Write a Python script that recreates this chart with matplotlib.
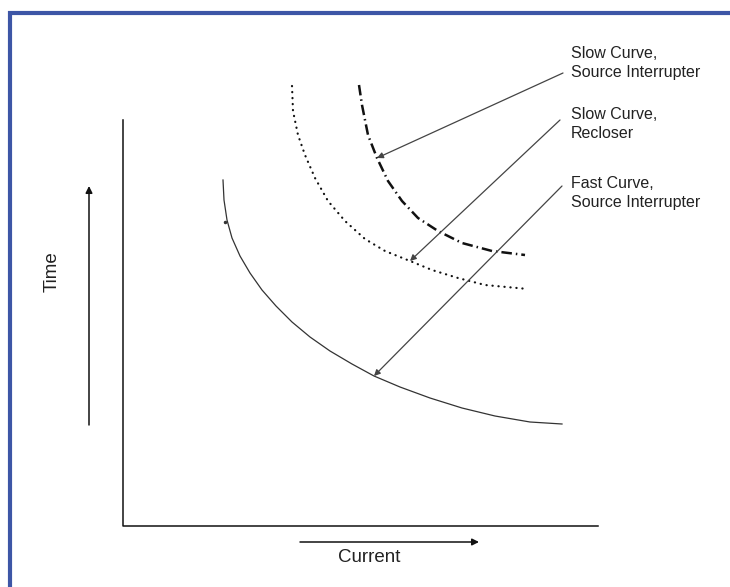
import matplotlib.pyplot as plt

# pixel-space layout: x to the right, y downwards (0..730, 0..587)
fast_x = [223, 224, 227, 232, 240, 250, 262, 276, 292, 310, 330, 352, 374, 400, 430, 462, 495, 530, 562]
fast_y = [180, 200, 220, 238, 256, 273, 290, 306, 322, 337, 351, 364, 376, 387, 398, 408, 416, 422, 424]

recloser_x = [292, 293, 298, 305, 315, 328, 345, 365, 385, 410, 432, 458, 485, 528]
recloser_y = [86, 111, 135, 155, 178, 201, 221, 239, 251, 261, 270, 278, 285, 289]

slow_src_x = [359, 362, 368, 377, 388, 402, 418, 438, 462, 492, 525]
slow_src_y = [85, 105, 135, 158, 181, 201, 218, 231, 243, 251, 255]

labels = ['Slow Curve,\nSource Interrupter',
          'Slow Curve,\nRecloser',
          'Fast Curve,\nSource Interrupter']
label_pos = [(571, 63), (571, 124), (571, 193)]
arrow_start = [(563, 73), (560, 120), (562, 186)]
arrow_end = [(377, 158), (410, 261), (374, 376)]

plt.rcParams['font.family'] = ['Liberation Sans', 'DejaVu Sans']

fig = plt.figure(figsize=(7.3, 5.87), dpi=100)
ax = fig.add_axes([0, 0, 1, 1])
ax.set_xlim(0, 730)
ax.set_ylim(587, 0)
ax.axis('off')

# blue frame (open at right and bottom)
frame = '#3D56A6'
ax.plot([8, 730], [12.5, 12.5], color=frame, lw=3, solid_capstyle='butt')
ax.plot([10, 10], [11, 587], color=frame, lw=3, solid_capstyle='butt')

# axes
ax.plot([123, 123, 598], [120, 526, 526], color='#111111', lw=1.1)

# direction arrows
ax.annotate('', xy=(89, 186), xytext=(89, 425),
            arrowprops=dict(arrowstyle='-|>', mutation_scale=10, lw=1.1,
                            color='#111111', shrinkA=0, shrinkB=0))
ax.annotate('', xy=(479, 542), xytext=(300, 542),
            arrowprops=dict(arrowstyle='-|>', mutation_scale=10, lw=1.1,
                            color='#111111', shrinkA=0, shrinkB=0))
ax.text(52, 272, 'Time', rotation=90, ha='center', va='center',
        fontsize=13.5, color='#222222')
ax.text(369, 558, 'Current', ha='center', va='center',
        fontsize=13.5, color='#222222')

# curves
ax.plot(fast_x, fast_y, color='#333333', lw=0.9, solid_joinstyle='round')
ax.plot([225], [222], marker='o', ms=1.5, color='#333333')
ax.plot(recloser_x, recloser_y, color='#111111', lw=1.6,
        linestyle=(0, (0.1, 2.6)), dash_capstyle='round')
ax.plot(slow_src_x, slow_src_y, color='#111111', lw=1.8,
        linestyle=(0, (4.2, 1.6, 0.6, 1.6)))

# callouts
for txt, (tx, ty), (sx, sy), (ex, ey) in zip(labels, label_pos, arrow_start, arrow_end):
    ax.text(tx, ty, txt, ha='left', va='center', fontsize=11.5,
            color='#222222', linespacing=1.35)
    ax.annotate('', xy=(ex, ey), xytext=(sx, sy),
                arrowprops=dict(arrowstyle='-|>', mutation_scale=9, lw=0.9,
                                color='#444444', shrinkA=0, shrinkB=0))

fig.savefig('out.png', dpi=100, facecolor='white')
